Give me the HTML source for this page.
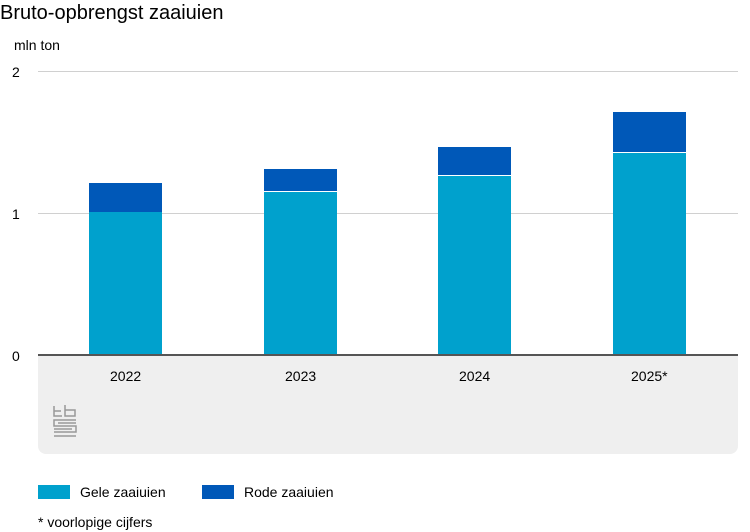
<!DOCTYPE html>
<html><head><style>
body{margin:0;width:750px;height:532px;background:#fff;font-family:"Liberation Sans",Arial,sans-serif;position:relative;overflow:hidden}
.t{position:absolute;white-space:nowrap;color:#000}
</style></head><body>
<svg width="750" height="532" style="position:absolute;left:0;top:0">
<path d="M38 356 H738 V446 a8 8 0 0 1 -8 8 H46 a8 8 0 0 1 -8 -8 Z" fill="#efefef"/>
<line x1="38" y1="71.5" x2="738" y2="71.5" stroke="#d0d0d0"/>
<line x1="38" y1="213.5" x2="738" y2="213.5" stroke="#d0d0d0"/>
<g fill="#0058b8">
<rect x="89" y="183" width="73" height="29"/>
<rect x="264" y="169" width="73" height="22"/>
<rect x="438" y="147" width="73" height="28"/>
<rect x="613" y="112" width="73" height="40"/>
</g>
<g fill="#00a1cd">
<rect x="89" y="212" width="73" height="143"/>
<rect x="264" y="192" width="73" height="163"/>
<rect x="438" y="176" width="73" height="179"/>
<rect x="613" y="153" width="73" height="202"/>
</g>
<line x1="38" y1="355" x2="738" y2="355" stroke="#555" stroke-width="2"/>
<g fill="none" stroke="#999" stroke-width="1.5">
<path d="M54 406 v10 h8 M54 411 h7 M65 405 v11 h10 v-6 h-10"/>
<path d="M76 420 h-22 v6 h22 v6 h-22 M58 423 h18 M54 429 h18 M54 436 h22"/>
</g>
<rect x="38" y="485" width="32" height="14" fill="#00a1cd"/>
<rect x="202" y="485" width="32" height="14" fill="#0058b8"/>
</svg>
<div class="t" style="left:0;top:2px;font-size:20px">Bruto-opbrengst zaaiuien</div>
<div class="t" style="left:14px;top:37px;font-size:14px">mln ton</div>
<div class="t" style="left:12px;top:64px;font-size:14px">2</div>
<div class="t" style="left:12px;top:206px;font-size:14px">1</div>
<div class="t" style="left:12px;top:348px;font-size:14px">0</div>
<div class="t" style="left:110px;top:368px;font-size:14px">2022</div>
<div class="t" style="left:285px;top:368px;font-size:14px">2023</div>
<div class="t" style="left:459px;top:368px;font-size:14px">2024</div>
<div class="t" style="left:631px;top:368px;font-size:14px">2025*</div>
<div class="t" style="left:80px;top:484px;font-size:14px">Gele zaaiuien</div>
<div class="t" style="left:244px;top:484px;font-size:14px">Rode zaaiuien</div>
<div class="t" style="left:38px;top:514px;font-size:14px">* voorlopige cijfers</div>
</body></html>
